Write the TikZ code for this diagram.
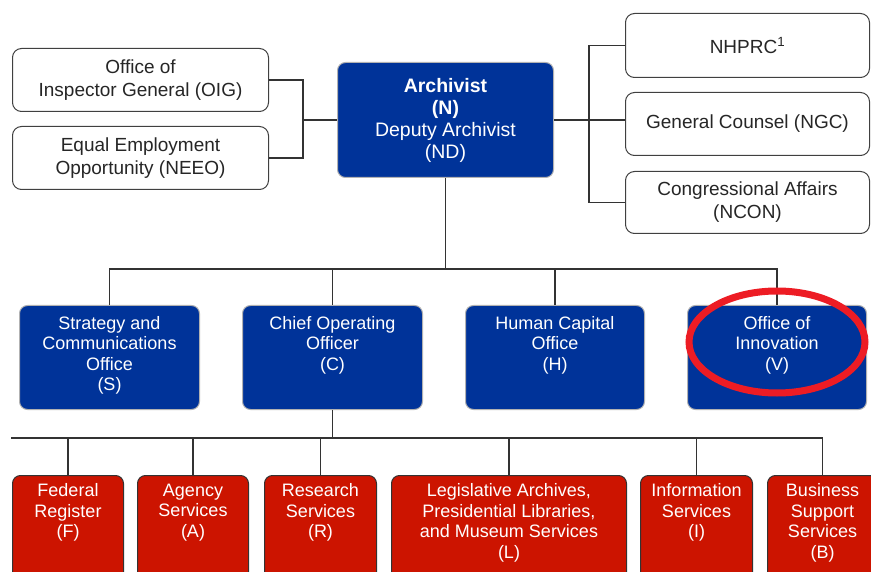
\documentclass[tikz,border=0pt]{standalone}
\usepackage{fontspec}
\setmainfont{Liberation Sans}
\usetikzlibrary{positioning}
\definecolor{narablue}{RGB}{0,51,153}
\definecolor{narared}{RGB}{204,20,0}
\definecolor{ringred}{RGB}{237,28,36}
\tikzset{
  staff/.style={draw=black!75, line width=1pt, rounded corners=9pt, fill=white,
    anchor=north west, inner sep=0pt, align=center, text=black!85,
    font=\fontsize{19}{23}\selectfont},
  head/.style={draw=black!30, line width=1pt, rounded corners=8pt, fill=narablue,
    anchor=north west, inner sep=0pt, align=center, text=white,
    font=\fontsize{19.5}{22}\selectfont},
  office/.style={draw=black!30, line width=1pt, rounded corners=8pt, fill=narablue,
    anchor=north west, minimum height=104pt},
  service/.style={draw=black!80, line width=1pt, rounded corners=8pt, fill=narared,
    anchor=north west, minimum height=130pt},
  boxtext/.style={inner sep=0pt, align=center, text=white,
    font=\fontsize{18}{20.5}\selectfont},
  link/.style={draw=black!80, line width=1.2pt}
}
\begin{document}
\begin{tikzpicture}[x=1pt,y=-1pt]
\clip (0,0) rectangle (871,572);
% staff offices and the archivist
\node[staff, minimum width=256pt, minimum height=63pt] (OIG) at (12,48) {Office of\\Inspector General (OIG)};
\node[staff, minimum width=256pt, minimum height=63pt] (NEEO) at (12,126) {Equal Employment\\Opportunity (NEEO)};
\node[head, minimum width=216pt, minimum height=115pt] (N) at (337,62) {\textbf{Archivist}\\\textbf{(N)}\\Deputy Archivist\\(ND)};
\node[staff, minimum width=244pt, minimum height=64pt] (NHPRC) at (625,13) {NHPRC\textsuperscript{1}};
\node[staff, minimum width=244pt, minimum height=63pt] (GC) at (625,92) {General Counsel (NGC)};
\node[staff, minimum width=244pt, minimum height=62pt] (NCON) at (625,171) {Congressional Affairs\\(NCON)};
% second row
\node[office, minimum width=180pt] (S) at (19,305) {};
\node[office, minimum width=180pt] (C) at (242,305) {};
\node[office, minimum width=179pt] (H) at (465,305) {};
\node[office, minimum width=179pt] (V) at (687,305) {};
\node[boxtext, below=11pt of S.north] (S-t) {Strategy and\\Communications\\Office\\(S)};
\node[boxtext, below=11pt of C.north] (C-t) {Chief Operating\\Officer\\(C)};
\node[boxtext, below=11pt of H.north] (H-t) {Human Capital\\Office\\(H)};
\node[boxtext, below=11pt of V.north] (V-t) {Office of\\Innovation\\(V)};
% services
\node[service, minimum width=111pt] (F) at (12,475) {};
\node[service, minimum width=111pt] (A) at (137,475) {};
\node[service, minimum width=112pt] (R) at (264,475) {};
\node[service, minimum width=235pt] (L) at (391,475) {};
\node[service, minimum width=112pt] (I) at (640,475) {};
\node[service, minimum width=110pt] (B) at (767,475) {};
\node[boxtext, below=8.5pt of F.north] (F-t) {Federal\\Register\\(F)};
\node[boxtext, below=8.5pt of A.north] (A-t) {Agency\\Services\\(A)};
\node[boxtext, below=8.5pt of R.north] (R-t) {Research\\Services\\(R)};
\node[boxtext, below=8.5pt of L.north] (L-t) {Legislative Archives,\\Presidential Libraries,\\and Museum Services\\(L)};
\node[boxtext, below=8.5pt of I.north] (I-t) {Information\\Services\\(I)};
\node[boxtext, below=8.5pt of B.north] (B-t) {Business\\Support\\Services\\(B)};
% connectors
\coordinate[left=34pt of N.west] (jl);
\coordinate[right=35pt of N.east] (jr);
\draw[link] (OIG.east) -| (jl) |- (NEEO.east);
\draw[link] (jl) -- (N.west);
\draw[link] (NHPRC.west) -| (jr) |- (NCON.west);
\draw[link] (N.east) -- (GC.west |- N.east);
\coordinate (bus1) at (448,269);
\draw[link] (N.south) -- (N.south |- bus1);
\draw[link] (S.north) |- (bus1) -| (V.north);
\foreach \b in {C,H} \draw[link] (\b.north) -- (\b.north |- bus1);
\coordinate (bus2) at (11,438);
\draw[link] (C.south) -- (C.south |- bus2);
\draw[link] (bus2) -| (B.north);
\foreach \b in {F,A,R,L,I} \draw[link] (\b.north) -- (\b.north |- bus2);
% highlight
\draw[ringred, line width=7pt] (777,342) ellipse [x radius=88, y radius=51];
\end{tikzpicture}
\end{document}
